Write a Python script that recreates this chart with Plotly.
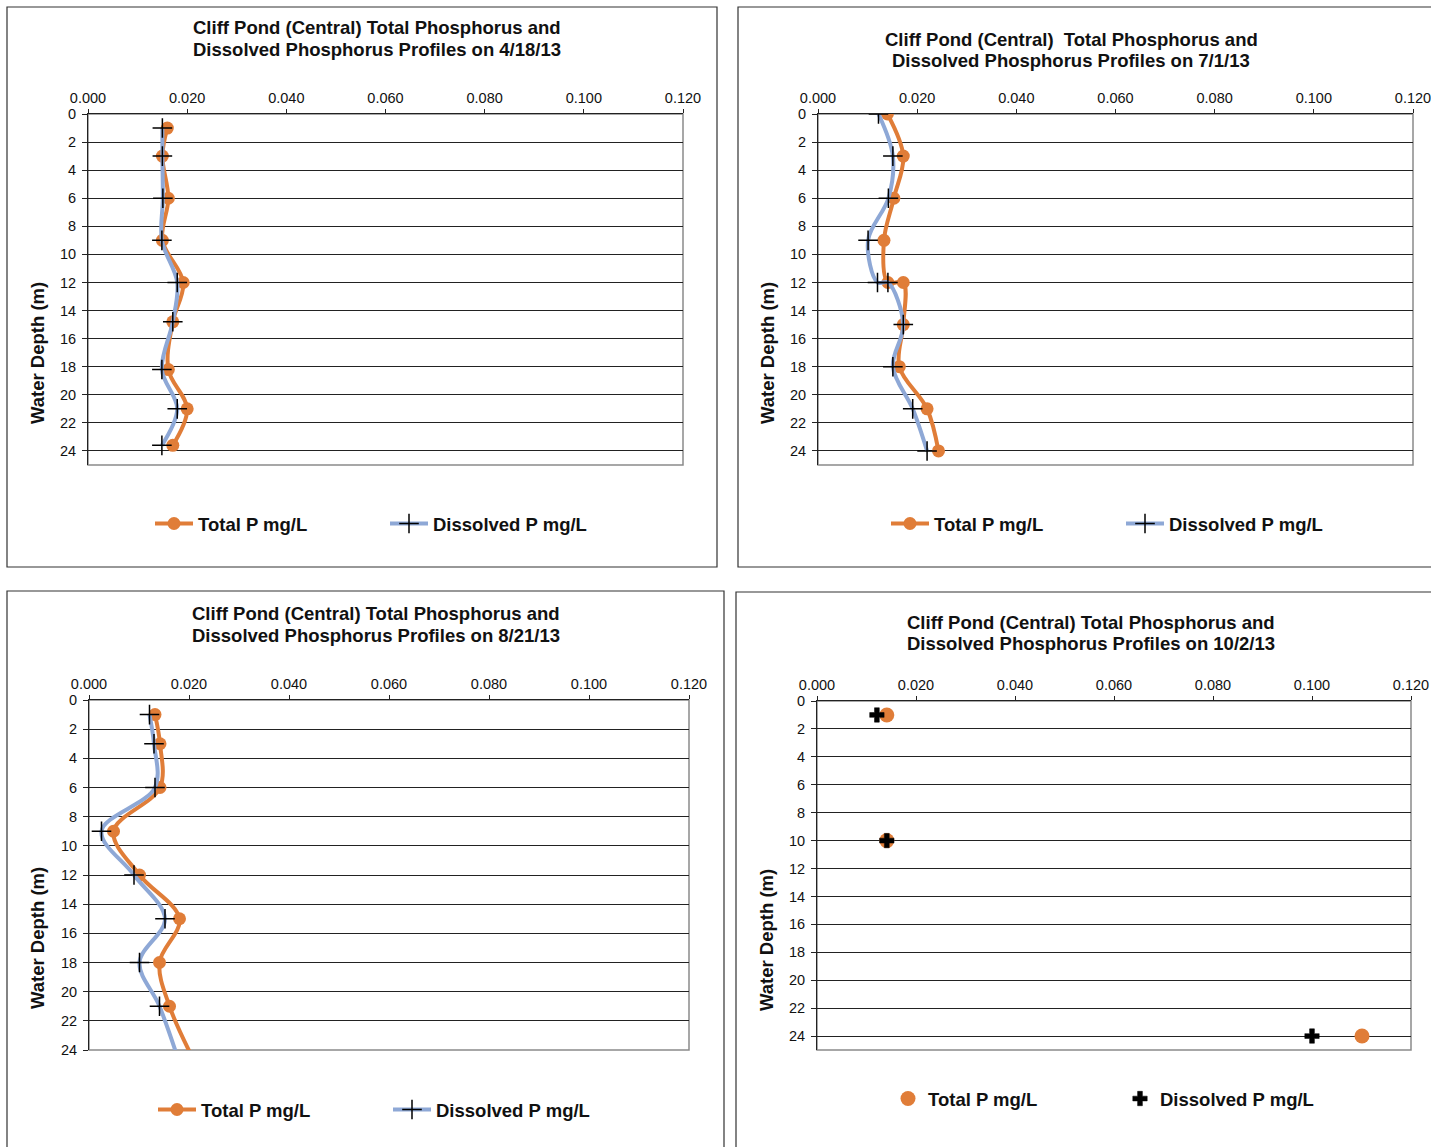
import plotly.graph_objects as go

W, H = 1431, 1147

# ---------------- data ----------------
title_line1 = [
    "Cliff Pond (Central) Total Phosphorus and",
    "Cliff Pond (Central)  Total Phosphorus and",
    "Cliff Pond (Central) Total Phosphorus and",
    "Cliff Pond (Central) Total Phosphorus and",
]
title_line2 = [
    "Dissolved Phosphorus Profiles on 4/18/13",
    "Dissolved Phosphorus Profiles on 7/1/13",
    "Dissolved Phosphorus Profiles on 8/21/13",
    "Dissolved Phosphorus Profiles on 10/2/13",
]

p1_depth = [1, 3, 6, 9, 12, 14.8, 18.2, 21, 23.6]
p1_total = [0.0160, 0.0150, 0.0162, 0.0150, 0.0192, 0.0171, 0.0162, 0.0200, 0.0171]
p1_diss = [0.0150, 0.0150, 0.0151, 0.0149, 0.0180, 0.0171, 0.0149, 0.0180, 0.0149]

p2_depth = [0, 3, 6, 9, 12, 12, 15, 18, 21, 24]
p2_total = [0.0140, 0.0172, 0.0153, 0.0133, 0.0141, 0.0172, 0.0172, 0.0164, 0.0220, 0.0243]
p2_diss = [0.0122, 0.0151, 0.0142, 0.0101, 0.0120, 0.0141, 0.0172, 0.0151, 0.0191, 0.0220]

p3_depth = [1, 3, 6, 9, 12, 15, 18, 21, 25]
p3_total = [0.0132, 0.0142, 0.0142, 0.0049, 0.0101, 0.0181, 0.0141, 0.0161, 0.0214]
p3_diss = [0.0121, 0.0130, 0.0132, 0.0025, 0.0090, 0.0152, 0.0101, 0.0141, 0.0182]

p4_depth = [1, 10, 24]
p4_total = [0.0141, 0.0141, 0.1101]
p4_diss = [0.0121, 0.0141, 0.1000]

x_ticks = [0.0, 0.02, 0.04, 0.06, 0.08, 0.10, 0.12]
y_ticks = list(range(0, 25, 2))

# ---------------- style / layout (pixels) ----------------
ORANGE = "#E07D38"
BLUE = "#8EA8D6"
FONT = "Liberation Sans, Arial, sans-serif"

panels = [
    dict(data=(p1_depth, p1_total, p1_diss), plot=(88, 683, 114, 465), yr=[25, 0],
         frame=(7, 717, 7, 567), title=(377, 27, 49), ytitle=(37, 353),
         legend=(150, 524, 38, 182), lines=True),
    dict(data=(p2_depth, p2_total, p2_diss), plot=(818, 1413, 114, 465), yr=[25, 0],
         frame=(738, 1440, 7, 567), title=(1071, 39, 60), ytitle=(767, 353),
         legend=(886, 524, 38, 182), lines=True),
    dict(data=(p3_depth, p3_total, p3_diss), plot=(89, 689, 700, 1050), yr=[24, 0],
         frame=(7, 724, 591, 1160), title=(376, 613, 635), ytitle=(37, 938),
         legend=(153, 1110, 38, 182), lines=True),
    dict(data=(p4_depth, p4_total, p4_diss), plot=(817, 1411, 701, 1050), yr=[25, 0],
         frame=(736, 1440, 592, 1160), title=(1091, 622, 643), ytitle=(766, 940),
         legend=(888, 1099, 30, 187), lines=False),
]


def px(x):
    return x / W


def py(y):
    return 1 - y / H


fig = go.Figure()
shapes = []
annotations = []
layout = {}

for i, p in enumerate(panels):
    n = i + 1
    sfx = "" if n == 1 else str(n)
    xa, ya = "x" + sfx, "y" + sfx
    lg = "legend" + sfx
    depth, total, diss = p["data"]
    if p["lines"]:
        fig.add_trace(go.Scatter(
            x=total, y=depth, xaxis=xa, yaxis=ya, legend=lg, name="Total P mg/L",
            mode="lines+markers", line=dict(color=ORANGE, width=4, shape="spline", smoothing=1),
            marker=dict(symbol="circle", size=13, color=ORANGE)))
        fig.add_trace(go.Scatter(
            x=diss, y=depth, xaxis=xa, yaxis=ya, legend=lg, name="Dissolved P mg/L",
            mode="lines+markers", line=dict(color=BLUE, width=4, shape="spline", smoothing=1),
            marker=dict(symbol="cross-thin", size=14, line=dict(color="black", width=1.5))))
    else:
        fig.add_trace(go.Scatter(
            x=total, y=depth, xaxis=xa, yaxis=ya, legend=lg, name="Total P mg/L",
            mode="markers", marker=dict(symbol="circle", size=15, color=ORANGE)))
        fig.add_trace(go.Scatter(
            x=diss, y=depth, xaxis=xa, yaxis=ya, legend=lg, name="Dissolved P mg/L",
            mode="markers", marker=dict(symbol="cross", size=12, color="black",
                                        line=dict(color="black", width=0.5))))

    x0, x1, y0, y1 = p["plot"]
    layout["xaxis" + sfx] = dict(
        domain=[px(x0), px(x1)], anchor=ya, side="top", range=[0, 0.12], automargin=False,
        tickvals=x_ticks, tickformat=".3f", showgrid=False, zeroline=False,
        ticklabeloverflow="allow",
        showline=True, linecolor="#222", linewidth=1, ticks="outside", ticklen=4,
        tickcolor="#222", tickfont=dict(family=FONT, size=14.5, color="#111"))
    layout["yaxis" + sfx] = dict(
        domain=[py(y1), py(y0)], anchor=xa, range=p["yr"], tickvals=y_ticks, automargin=False,
        showgrid=True, gridcolor="#222", gridwidth=1, zeroline=False,
        ticklabeloverflow="allow", ticklabelstandoff=3,
        showline=True, linecolor="#222", linewidth=1, ticks="outside", ticklen=5,
        tickcolor="#222", tickfont=dict(family=FONT, size=14.5, color="#111"))
    lx, ly, iw, ew = p["legend"]
    layout[lg] = dict(
        x=px(lx), y=py(ly), xanchor="left", yanchor="middle", orientation="h",
        entrywidth=ew, entrywidthmode="pixels", bgcolor="rgba(0,0,0,0)",
        font=dict(family=FONT, size=18.5, color="#111", weight="bold"),
        itemwidth=iw)

    # plot-area border (gray), drawn below traces
    shapes.append(dict(type="rect", xref=xa + " domain", yref=ya + " domain",
                       x0=0, x1=1, y0=0, y1=1, line=dict(color="#8a8a8a", width=1.5),
                       layer="below"))
    # chart frame
    fx0, fx1, fy0, fy1 = p["frame"]
    shapes.append(dict(type="rect", xref="paper", yref="paper",
                       x0=px(fx0), x1=px(fx1), y0=py(fy1), y1=py(fy0),
                       line=dict(color="#333", width=1.2)))
    tx, ty1, ty2 = p["title"]
    for txt, ty in ((title_line1[i], ty1), (title_line2[i], ty2)):
        annotations.append(dict(text="<b>" + txt + "</b>", xref="paper", yref="paper",
                                x=px(tx), y=py(ty), xanchor="center", yanchor="middle",
                                showarrow=False, align="center",
                                font=dict(family=FONT, size=18.5, color="#111")))
    yx, yy = p["ytitle"]
    annotations.append(dict(text="<b>Water Depth (m)</b>", xref="paper", yref="paper",
                            x=px(yx), y=py(yy), xanchor="center", yanchor="middle",
                            textangle=-90, showarrow=False,
                            font=dict(family=FONT, size=18.5, color="#111")))

fig.update_layout(
    width=W, height=H, margin=dict(l=0, r=0, t=0, b=0, autoexpand=False),
    paper_bgcolor="white", plot_bgcolor="white",
    shapes=shapes, annotations=annotations, **layout)

fig.write_html(
    "out.html",
    config={"displayModeBar": False},
    post_script="document.body.style.margin='0px';document.body.style.padding='0px';"
                "document.body.style.overflow='hidden';",
)
